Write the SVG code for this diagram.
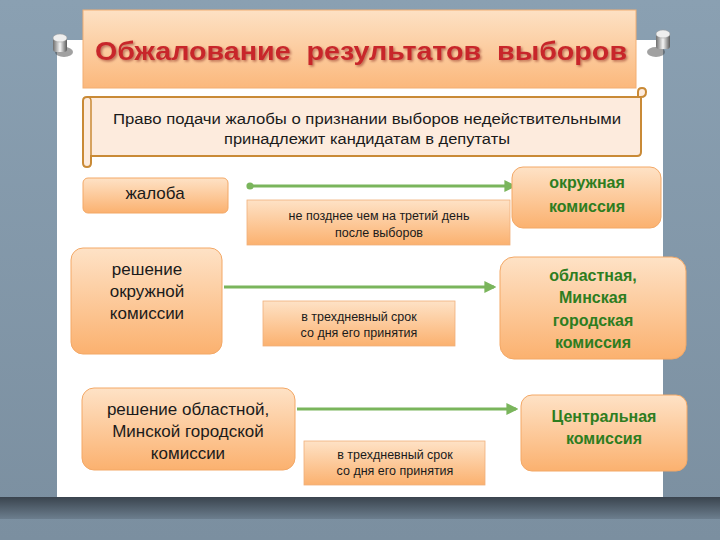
<svg xmlns="http://www.w3.org/2000/svg" width="720" height="540" viewBox="0 0 720 540">
<defs>
<linearGradient id="bg" x1="0" y1="0" x2="0" y2="1">
<stop offset="0" stop-color="#8aa0b2"/><stop offset="1" stop-color="#7b8fa0"/>
</linearGradient>
<linearGradient id="shadow" x1="0" y1="0" x2="0" y2="1">
<stop offset="0" stop-color="#3a444e"/><stop offset="1" stop-color="#6c7e8e"/>
</linearGradient>
<linearGradient id="org" x1="0" y1="0" x2="0" y2="1">
<stop offset="0" stop-color="#fee2c6"/><stop offset="1" stop-color="#fbb16f"/>
</linearGradient>
<linearGradient id="ttl" x1="0" y1="0" x2="0" y2="1">
<stop offset="0" stop-color="#fde1c4"/><stop offset="1" stop-color="#fbb87c"/>
</linearGradient>
<linearGradient id="pin" x1="0" y1="0" x2="1" y2="0">
<stop offset="0" stop-color="#6d6d6d"/><stop offset="0.5" stop-color="#f4f4f4"/><stop offset="1" stop-color="#5a5a5a"/>
</linearGradient>
<filter id="ts" x="-5%" y="-20%" width="110%" height="150%">
<feDropShadow dx="1.5" dy="1.5" stdDeviation="0.8" flood-color="#6a1010" flood-opacity="0.45"/>
</filter>
<marker id="arr" viewBox="0 0 10 10" refX="8" refY="5" markerWidth="4" markerHeight="4" orient="auto">
<path d="M0,0 L10,5 L0,10 z" fill="#7ab55c"/>
</marker>
<marker id="dot" viewBox="0 0 10 10" refX="5" refY="5" markerWidth="3" markerHeight="3">
<circle cx="5" cy="5" r="4" fill="#7ab55c"/>
</marker>
</defs>
<style>
.box{fill:url(#org);stroke:#f3a866;stroke-width:1}
.lbl{fill:url(#org);stroke:#f0b07a;stroke-width:0.8}
.t{font-family:"Liberation Sans",Arial,sans-serif;fill:#1a1a1a;text-anchor:middle}
.big{font-size:17px}
.sm{font-size:12.5px}
.g{font-family:"Liberation Sans",Arial,sans-serif;font-weight:bold;font-size:16px;fill:#2e7d1f;text-anchor:middle}
.con{stroke:#7ab55c;stroke-width:3;fill:none;marker-end:url(#arr)}
</style>
<rect width="720" height="540" fill="url(#bg)"/>
<rect x="0" y="497" width="720" height="22" fill="url(#shadow)"/>
<rect x="57" y="40" width="606" height="457" fill="#ffffff"/>

<g id="pins">
<ellipse cx="64" cy="52" rx="9" ry="5" fill="#444" opacity="0.5"/>
<rect x="53" y="38" width="14" height="14" rx="3" fill="url(#pin)"/>
<ellipse cx="60" cy="38" rx="7" ry="4" fill="#eeeeee" stroke="#999" stroke-width="0.5"/>
<ellipse cx="656" cy="52" rx="9" ry="5" fill="#444" opacity="0.5"/>
<rect x="656" y="34" width="14" height="15" rx="3" fill="url(#pin)"/>
<ellipse cx="663" cy="34" rx="7" ry="4" fill="#eeeeee" stroke="#999" stroke-width="0.5"/>
</g>

<g id="title">
<rect x="83" y="10" width="553" height="78" fill="url(#ttl)" stroke="#f2ae72" stroke-width="1"/>
<text x="361" y="60" style="white-space:pre" font-family="'Liberation Sans',Arial,sans-serif" font-weight="bold" font-size="26" fill="#c8282c" text-anchor="middle" textLength="532" lengthAdjust="spacingAndGlyphs" filter="url(#ts)">Обжалование  результатов  выборов</text>
</g>

<g id="scroll">
<path d="M89,97 L641,97 Q646,97 646,92 Q646,88 642,88 Q638,88 638,92 L638,97 L641,97 L641,152 Q641,156 637,156 L91,156 L91,163 Q91,167 87,167 Q83,167 83,163 L83,101 Q83,97 87,97 Z" fill="#fdebdd" stroke="#c98a36" stroke-width="2"/>
<path d="M87,97 Q91,97 91,101 L91,156" fill="none" stroke="#c98a36" stroke-width="1.5"/>
<text class="t" x="367" y="124" font-size="15.5" textLength="508" lengthAdjust="spacingAndGlyphs">Право подачи жалобы о признании выборов недействительными</text>
<text class="t" x="367" y="144" font-size="15.5" textLength="286" lengthAdjust="spacingAndGlyphs">принадлежит кандидатам в депутаты</text>
</g>

<g id="connectors">
<line x1="250" y1="186" x2="514" y2="186" class="con" marker-start="url(#dot)"/>
<line x1="224" y1="287" x2="494" y2="287" class="con"/>
<line x1="297" y1="409" x2="516" y2="409" class="con"/>
</g>

<g id="n-zhaloba">
<rect class="box" x="83" y="178" width="145" height="35" rx="5"/>
<text class="t big" x="155" y="199">жалоба</text>
</g>
<g id="l1">
<rect class="lbl" x="247" y="200" width="263" height="45"/>
<text class="t sm" x="379" y="220">не позднее чем на третий день</text>
<text class="t sm" x="379" y="237">после выборов</text>
</g>
<g id="n-okr">
<rect class="box" x="512" y="167" width="149" height="61" rx="11"/>
<text class="g" x="587" y="188">окружная</text>
<text class="g" x="587" y="212">комиссия</text>
</g>

<g id="n-resh1">
<rect class="box" x="71" y="248" width="151" height="106" rx="12"/>
<text class="t big" x="147" y="275">решение</text>
<text class="t big" x="147" y="297">окружной</text>
<text class="t big" x="147" y="319">комиссии</text>
</g>
<g id="l2">
<rect class="lbl" x="263" y="301" width="192" height="45"/>
<text class="t sm" x="359" y="321">в трехдневный срок</text>
<text class="t sm" x="359" y="337">со дня его принятия</text>
</g>
<g id="n-obl">
<rect class="box" x="500" y="257" width="186" height="102" rx="14"/>
<text class="g" x="593" y="281">областная,</text>
<text class="g" x="593" y="303">Минская</text>
<text class="g" x="593" y="326">городская</text>
<text class="g" x="593" y="348">комиссия</text>
</g>

<g id="n-resh2">
<rect class="box" x="82" y="388" width="213" height="82" rx="12"/>
<text class="t big" x="188" y="415">решение областной,</text>
<text class="t big" x="188" y="437">Минской городской</text>
<text class="t big" x="188" y="459">комиссии</text>
</g>
<g id="l3">
<rect class="lbl" x="304" y="441" width="181" height="44"/>
<text class="t sm" x="395" y="459">в трехдневный срок</text>
<text class="t sm" x="395" y="475">со дня его принятия</text>
</g>
<g id="n-centr">
<rect class="box" x="521" y="395" width="166" height="76" rx="11"/>
<text class="g" x="604" y="422">Центральная</text>
<text class="g" x="604" y="444">комиссия</text>
</g>
</svg>
